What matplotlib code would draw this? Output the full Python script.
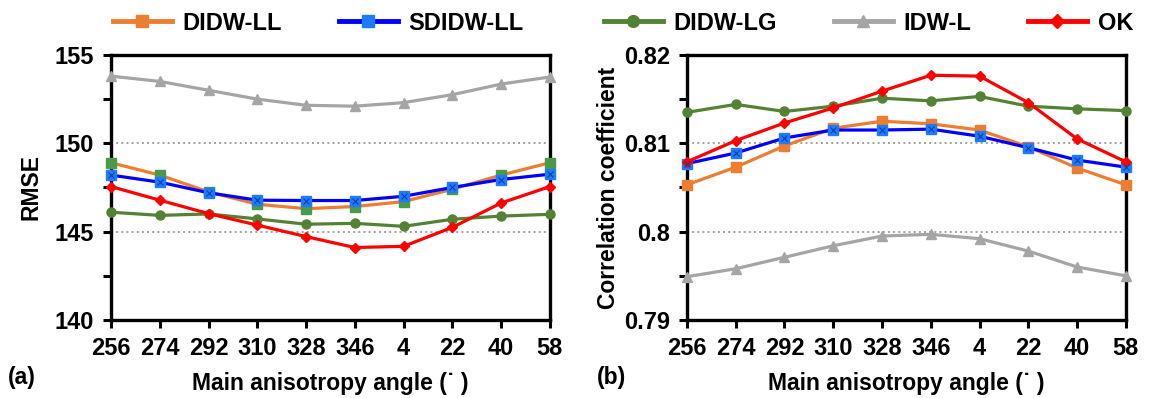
import matplotlib.pyplot as plt
from matplotlib.ticker import MultipleLocator

plt.rcParams['font.family'] = ['Liberation Sans', 'DejaVu Sans']
plt.rcParams['font.weight'] = 'bold'

angles = ['256', '274', '292', '310', '328', '346', '4', '22', '40', '58']

# RMSE (a)
rmse_didw_ll = [148.9, 148.2, 147.25, 146.55, 146.3, 146.42, 146.7, 147.4, 148.2, 148.9]
rmse_sdidw_ll = [148.2, 147.8, 147.2, 146.78, 146.76, 146.76, 147.0, 147.5, 147.95, 148.25]
rmse_didw_lg = [146.1, 145.92, 146.0, 145.72, 145.42, 145.47, 145.3, 145.7, 145.88, 145.98]
rmse_idw_l = [153.8, 153.5, 153.0, 152.5, 152.15, 152.1, 152.3, 152.75, 153.35, 153.75]
rmse_ok = [147.55, 146.78, 146.02, 145.37, 144.72, 144.1, 144.17, 145.24, 146.62, 147.55]

# Correlation coefficient (b)
cc_didw_ll = [0.8053, 0.8073, 0.8097, 0.8117, 0.8125, 0.8122, 0.8115, 0.8096, 0.8072, 0.8053]
cc_sdidw_ll = [0.8077, 0.8089, 0.8106, 0.8115, 0.8115, 0.8116, 0.8108, 0.8095, 0.8081, 0.8073]
cc_didw_lg = [0.8135, 0.8144, 0.8136, 0.8142, 0.8151, 0.8148, 0.8153, 0.8142, 0.8139, 0.8137]
cc_idw_l = [0.7949, 0.7958, 0.7971, 0.7984, 0.7995, 0.7997, 0.7992, 0.7978, 0.7960, 0.7950]
cc_ok = [0.8079, 0.8103, 0.8123, 0.8140, 0.8159, 0.8177, 0.8176, 0.8146, 0.8105, 0.8079]

orange = '#ED7D31'
blue = '#0000FF'
green = '#548235'
gray = '#A5A5A5'
red = '#FF0000'

fig = plt.figure(figsize=(11.61, 3.98), dpi=100)
ax1 = fig.add_axes([0.0956, 0.196, 0.378, 0.666])
ax2 = fig.add_axes([0.5917, 0.196, 0.378, 0.666])
x = range(len(angles))


def draw(ax, didw_ll, sdidw_ll, didw_lg, idw_l, ok, ll_marker_color):
    kw = dict(lw=2.3, ms=6.5, clip_on=False, zorder=3)
    ax.plot(x, idw_l, color=gray, marker='^', label='IDW-L', **kw)
    ax.plot(x, didw_lg, color=green, marker='o', label='DIDW-LG', **kw)
    ax.plot(x, didw_ll, color=orange, marker='s', mfc=ll_marker_color,
            mec=ll_marker_color, label='DIDW-LL', **kw)
    ax.plot(x, sdidw_ll, color=blue, marker='s', mfc='#1E7BFF', mec='#1E7BFF',
            label='SDIDW-LL', **kw)
    ax.plot(x, sdidw_ll, ls='none', marker='x', ms=4, mew=0.8, color='#0A3FA0',
            clip_on=False, zorder=4)
    ax.plot(x, ok, color=red, marker='D', ms=5.5, lw=2.3, clip_on=False,
            zorder=3, label='OK')
    ax.set_xlim(0, len(angles) - 1)
    ax.set_xticks(list(x))
    ax.set_xticklabels(angles)
    for s in ax.spines.values():
        s.set_linewidth(2.4)
    ax.tick_params(axis='both', which='both', direction='out', length=6,
                   width=2.2, labelsize=17, pad=6)
    ax.grid(axis='y', which='major', color='#A0A0A0', ls=':', lw=1.4)
    ax.set_axisbelow(True)
    ax.set_xlabel('Main anisotropy angle (˙ )', fontsize=16.5, fontweight='bold',
                  labelpad=9)


draw(ax1, rmse_didw_ll, rmse_sdidw_ll, rmse_didw_lg, rmse_idw_l, rmse_ok, '#4A9A4A')
ax1.set_ylim(140, 155)
ax1.yaxis.set_major_locator(MultipleLocator(5))
ax1.yaxis.set_minor_locator(MultipleLocator(2.5))
ax1.set_ylabel('RMSE', fontsize=16.5, fontweight='bold', labelpad=9)

draw(ax2, cc_didw_ll, cc_sdidw_ll, cc_didw_lg, cc_idw_l, cc_ok, orange)
ax2.set_ylim(0.79, 0.82)
ax2.yaxis.set_minor_locator(MultipleLocator(0.005))
ax2.set_yticks([0.79, 0.80, 0.81, 0.82])
ax2.set_yticklabels(['0.79', '0.8', '0.81', '0.82'])
ax2.set_ylabel('Correlation coefficient', fontsize=16.5, fontweight='bold', labelpad=3)

h1, l1 = ax1.get_legend_handles_labels()
h2, l2 = ax2.get_legend_handles_labels()
left_names = ['DIDW-LL', 'SDIDW-LL']
right_names = ['DIDW-LG', 'IDW-L', 'OK']
leg_kw = dict(loc='center', ncol=3, frameon=False, fontsize=17, handlelength=2.5,
              columnspacing=2.4, handletextpad=0.45, markerscale=1.3)
leg1 = fig.legend([h2[l2.index(n)] for n in left_names], left_names,
                  bbox_to_anchor=(0.274, 0.942), **leg_kw)
leg2 = fig.legend([h2[l2.index(n)] for n in right_names], right_names,
                  bbox_to_anchor=(0.748, 0.942), **leg_kw)
for leg in (leg1, leg2):
    for ln in leg.get_lines():
        ln.set_linewidth(3.5)

fig.text(0.007, 0.035, '(a)', fontsize=16.5, fontweight='bold')
fig.text(0.514, 0.035, '(b)', fontsize=16.5, fontweight='bold')

fig.savefig('out.png', dpi=100)
